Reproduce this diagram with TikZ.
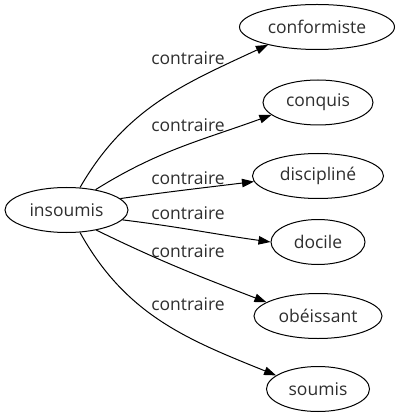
\documentclass[tikz,border=0pt]{standalone}
\usepackage{fontspec}
\setmainfont{Open Sans}
\usetikzlibrary{shapes.geometric,arrows.meta}
\begin{document}
\begin{tikzpicture}[x=1pt,y=1pt,
  word/.style={ellipse,draw,line width=1pt,inner sep=0pt,minimum height=45,font=\fontsize{17.5}{21}\selectfont,text=black!82},
  lbl/.style={inner sep=0pt,font=\fontsize{17.5}{21}\selectfont,text=black!82},
  arr/.style={line width=1pt,-{Triangle[length=12pt,width=8.5pt]}}]
\useasboundingbox (0,0) rectangle (400,-419);
\node[word,minimum width=123] (ins) at (66.5,-210) {insoumis};
\node[word,minimum width=155] (c1) at (317,-27) {conformiste};
\node[word,minimum width=110] (c2) at (318,-102.5) {conquis};
\node[word,minimum width=131] (c3) at (318,-176) {discipliné};
\node[word,minimum width=94] (c4) at (318,-242) {docile};
\node[word,minimum width=128] (c5) at (318,-316) {obéissant};
\node[word,minimum width=103] (c6) at (318,-389) {soumis};
\node[lbl] (l1) at (188,-58) {contraire};
\node[lbl] (l2) at (188,-125) {contraire};
\node[lbl] (l3) at (188,-178) {contraire};
\node[lbl] (l4) at (188,-213) {contraire};
\node[lbl] (l5) at (188,-251.5) {contraire};
\node[lbl] (l6) at (188,-304.5) {contraire};
\draw[arr] (ins.59) to[out=60,in=205] (c1.200);
\draw[arr] (ins.35) to[out=32,in=200] (c2.195);
\draw[arr] (ins.12) to[out=8,in=187] (c3.185);
\draw[arr] (ins.-10) to[out=-7,in=172] (c4.180);
\draw[arr] (ins.-34) to[out=-26,in=159] (c5.165);
\draw[arr] (ins.-59) to[out=-61,in=158] (c6.162);
\end{tikzpicture}
\end{document}
